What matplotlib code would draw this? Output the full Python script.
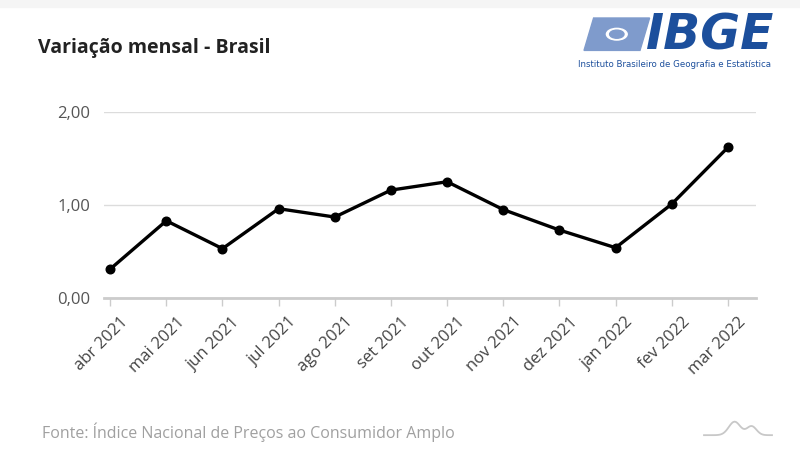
import numpy as np
from matplotlib import pyplot as plt
from matplotlib.patches import Rectangle, Polygon, Circle
from matplotlib.transforms import ScaledTranslation

# data: IPCA monthly variation (%)
months = ['abr 2021', 'mai 2021', 'jun 2021', 'jul 2021', 'ago 2021', 'set 2021',
          'out 2021', 'nov 2021', 'dez 2021', 'jan 2022', 'fev 2022', 'mar 2022']
values = [0.31, 0.83, 0.53, 0.96, 0.87, 1.16, 1.25, 0.95, 0.73, 0.54, 1.01, 1.62]
yticks = [0.0, 1.0, 2.0]
ytick_labels = ['0,00', '1,00', '2,00']

plt.rcParams['font.family'] = ['Open Sans', 'DejaVu Sans']

fig = plt.figure(figsize=(8, 4.5), dpi=100)
ax = fig.add_axes([0.13, 0.338, 0.815, 0.413])

x = np.arange(len(months))
ax.plot(x, values, color='black', lw=2.4, marker='o', markersize=6.2, zorder=5, clip_on=False)

ax.set_xlim(-0.11, len(months) - 0.5)
ax.set_ylim(0, 2)
ax.set_yticks(yticks)
ax.set_yticklabels(ytick_labels)
ax.set_xticks(x)
ax.set_xticklabels([])

# rotated month labels, placed a bit right/down of each tick like the original
offset = ScaledTranslation(10 / 100, -16 / 100, fig.dpi_scale_trans)
for xi, m in zip(x, months):
    ax.text(xi, 0, m, transform=ax.get_xaxis_transform() + offset, rotation=45,
            ha='right', va='top', rotation_mode='anchor', fontsize=12, color='#444444')

ax.grid(axis='y', color='#dcdcdc', lw=1)
ax.set_axisbelow(True)
for s in ['top', 'right', 'left']:
    ax.spines[s].set_visible(False)
ax.spines['bottom'].set_color('#cccccc')
ax.spines['bottom'].set_linewidth(2)

ax.tick_params(axis='y', length=0, pad=10, labelsize=12, labelcolor='#555555')
ax.tick_params(axis='x', length=6, width=1, color='#cccccc')

# title and source
fig.text(0.047, 0.893, 'Variação mensal - Brasil', fontsize=14, fontweight='bold',
         color='#222222', va='center', ha='left')
fig.text(0.052, 0.04, 'Fonte: Índice Nacional de Preços ao Consumidor Amplo', fontsize=11.5,
         color='#a0a0a0', va='center', ha='left')

# light band at the top
fig.patches.append(Rectangle((0, 0.985), 1, 0.015, transform=fig.transFigure,
                             color='#f5f5f5', zorder=0))

# IBGE logo
blue = '#1c4f9c'
light = '#7f9bcc'
fig.patches.append(Polygon([[0.742, 0.96], [0.812, 0.96], [0.800, 0.888], [0.730, 0.888]],
                           closed=True, transform=fig.transFigure, color=light, zorder=2))
fig.patches.append(Circle((0.771, 0.924), 0.013, transform=fig.transFigure,
                          color='white', zorder=3))
fig.patches.append(Circle((0.771, 0.924), 0.009, transform=fig.transFigure,
                          color=light, zorder=4))
fig.text(0.807, 1 - 50 / 450, 'IBGE', fontsize=35, fontweight='bold', style='italic',
         color=blue, va='baseline', ha='left', family=['DejaVu Sans'])
fig.text(0.723, 1 - 65 / 450, 'Instituto Brasileiro de Geografia e Estatística', fontsize=6.2,
         color=blue, va='center', ha='left', family=['DejaVu Sans'])

# small decorative mark at the bottom right
t = np.linspace(0, 1, 50)
bx = 0.88 + 0.085 * t
by = 0.033 + 0.03 * np.exp(-((t - 0.45) / 0.12) ** 2) + 0.02 * np.exp(-((t - 0.7) / 0.1) ** 2)
fig.lines.append(plt.Line2D(bx, by, transform=fig.transFigure, color='#c8c8c8', lw=1.3))

fig.savefig('out.png', dpi=100)
